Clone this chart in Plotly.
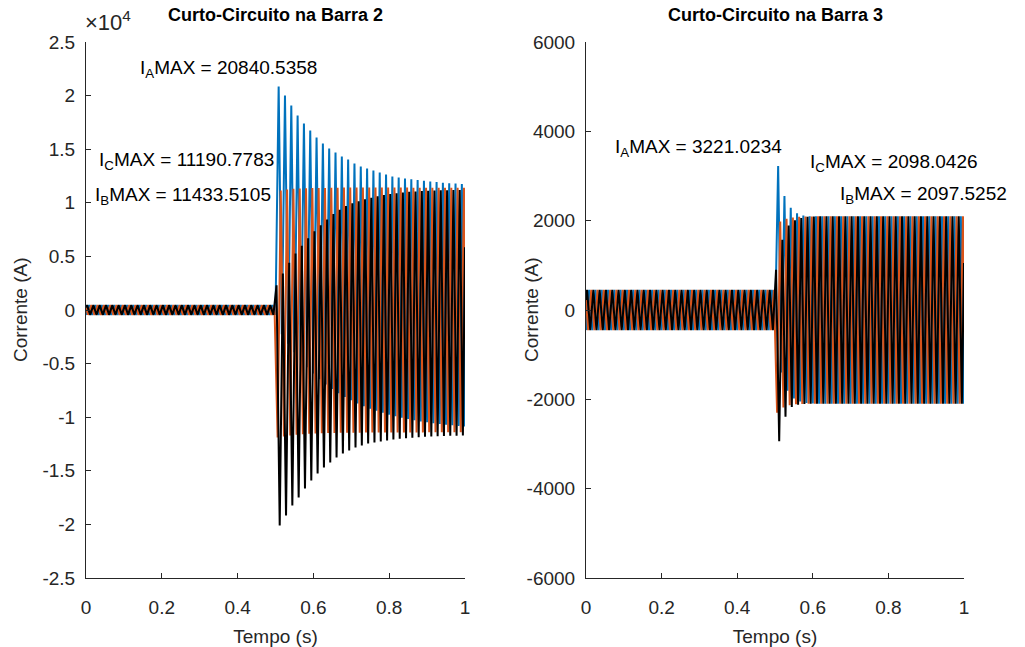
import plotly.graph_objects as go

# ---------------------------------------------------------------------------
# Three-phase fault currents, 60 Hz, fault applied at t = 0.5 s
# Values are the peak (max) and trough (min) of each post-fault cycle.
# ---------------------------------------------------------------------------
F_HZ = 60
T_FAULT = 0.5
T_END = 1.0

# ---- Barra 2 -------------------------------------------------------------
B2_PRE_PEAK = 450
B2_IA_MAX = [20840.5358, 20010, 19080, 18140, 17400, 16740, 16090, 15530, 15070, 14690,
             14320, 14040, 13670, 13390, 13200, 13010, 12830, 12640, 12450, 12360,
             12270, 12200, 12130, 12060, 11990, 11930, 11870, 11820, 11790, 11760]
B2_IA_MIN = [-2250, -3150, -3950, -4680, -5340, -5930, -6460, -6940, -7370, -7760,
             -8110, -8420, -8710, -8970, -9200, -9400, -9590, -9760, -9910, -10050,
             -10170, -10290, -10390, -10480, -10560, -10630, -10700, -10760, -10810, -10860]
B2_IB_MAX = [11150, 11250, 11300, 11330, 11350, 11370, 11380, 11390, 11400, 11410,
             11415, 11420, 11425, 11430, 11433.5105, 11430, 11428, 11425, 11420, 11418,
             11415, 11412, 11410, 11408, 11405, 11403, 11400, 11398, 11396, 11395]
B2_IB_MIN = [-11900, -11800, -11700, -11640, -11590, -11550, -11520, -11500, -11480, -11470,
             -11460, -11450, -11445, -11440, -11435, -11432, -11430, -11428, -11426, -11424,
             -11422, -11420, -11418, -11416, -11414, -11412, -11410, -11408, -11406, -11404]
B2_IC_MAX = [2300, 3400, 4400, 5270, 6000, 6700, 7350, 7900, 8450, 8950,
             9350, 9700, 9950, 10150, 10330, 10480, 10610, 10720, 10810, 10890,
             10960, 11020, 11060, 11100, 11130, 11150, 11165, 11175, 11185, 11190.7783]
B2_IC_MIN = [-20100, -19170, -18240, -17490, -16650, -15910, -15250, -14690, -14230, -13760,
             -13390, -13110, -12830, -12640, -12450, -12360, -12260, -12170, -12090, -12020,
             -11960, -11910, -11870, -11830, -11800, -11770, -11750, -11730, -11720, -11710]
B2_START = {"A": -450, "B": 225, "C": 225}
B2_END = {"A": -10860, "B": 5700, "C": 5850}

# ---- Barra 3 -------------------------------------------------------------
B3_PRE_PEAK = 450
B3_IA_MAX = [3221.0234, 2550, 2290, 2165, 2115, 2100, 2097, 2097, 2097, 2097,
             2097, 2097, 2097, 2097, 2097, 2097, 2097, 2097, 2097, 2097,
             2097, 2097, 2097, 2097, 2097, 2097, 2097, 2097, 2097, 2097]
B3_IA_MIN = [-1400, -1810, -1980, -2050, -2080, -2092, -2096, -2097, -2097, -2097,
             -2097, -2097, -2097, -2097, -2097, -2097, -2097, -2097, -2097, -2097,
             -2097, -2097, -2097, -2097, -2097, -2097, -2097, -2097, -2097, -2097]
B3_IB_MAX = [1980, 2040, 2070, 2085, 2092, 2095, 2096, 2097, 2097.5252, 2097.5,
             2097.5, 2097.5, 2097.5, 2097.5, 2097.5, 2097.5, 2097.5, 2097.5, 2097.5, 2097.5,
             2097.5, 2097.5, 2097.5, 2097.5, 2097.5, 2097.5, 2097.5, 2097.5, 2097.5, 2097.5]
B3_IB_MIN = [-2300, -2180, -2130, -2110, -2102, -2099, -2098, -2097.5, -2097.5, -2097.5,
             -2097.5, -2097.5, -2097.5, -2097.5, -2097.5, -2097.5, -2097.5, -2097.5, -2097.5, -2097.5,
             -2097.5, -2097.5, -2097.5, -2097.5, -2097.5, -2097.5, -2097.5, -2097.5, -2097.5, -2097.5]
B3_IC_MAX = [900, 1570, 1890, 2010, 2060, 2085, 2093, 2096, 2097, 2098.0426,
             2098, 2098, 2098, 2098, 2098, 2098, 2098, 2098, 2098, 2098,
             2098, 2098, 2098, 2098, 2098, 2098, 2098, 2098, 2098, 2098]
B3_IC_MIN = [-2940, -2390, -2170, -2120, -2105, -2100, -2098, -2098, -2098, -2098,
             -2098, -2098, -2098, -2098, -2098, -2098, -2098, -2098, -2098, -2098,
             -2098, -2098, -2098, -2098, -2098, -2098, -2098, -2098, -2098, -2098]
B3_START = {"A": -450, "B": 225, "C": 225}
B3_END = {"A": -2097, "B": 1050, "C": 1050}

# Phase lag (fraction of a cycle) and polarity of the first extreme
PHASE_LAG = {"A": 0.0, "B": 1 / 3, "C": 1 / 6}
FIRST_IS_MAX = {"A": False, "B": False, "C": True}
COLORS = {"A": "#0072BD", "B": "#D95319", "C": "#000000"}

X_TICKS = [0, 0.2, 0.4, 0.6, 0.8, 1]
X_TICK_TEXT = ["0", "0.2", "0.4", "0.6", "0.8", "1"]
B2_Y_TICKS = [-25000, -20000, -15000, -10000, -5000, 0, 5000, 10000, 15000, 20000, 25000]
B2_Y_TICK_TEXT = ["-2.5", "-2", "-1.5", "-1", "-0.5", "0", "0.5", "1", "1.5", "2", "2.5"]
B3_Y_TICKS = [-6000, -4000, -2000, 0, 2000, 4000, 6000]
B3_Y_TICK_TEXT = ["-6000", "-4000", "-2000", "0", "2000", "4000", "6000"]


def phase_points(phase, pre_peak, post_max, post_min, start_val, end_val):
    """Join the extremes of one phase current in time order."""
    lag = PHASE_LAG[phase]
    first_max = FIRST_IS_MAX[phase]
    t, v = [0.0], [start_val]
    i_max = i_min = 0
    j = 0
    while True:
        tj = (j + 2 * lag) / (2 * F_HZ)
        if tj > T_END + 1e-12:
            break
        is_max = ((j % 2) == 0) == first_max
        if tj <= T_FAULT + 1e-12:
            val = pre_peak if is_max else -pre_peak
        elif is_max:
            val = post_max[i_max]
            i_max += 1
        else:
            val = post_min[i_min]
            i_min += 1
        if tj <= 1e-12:
            v[0] = val
        else:
            t.append(tj)
            v.append(val)
        j += 1
    if t[-1] < T_END - 1e-12:
        t.append(T_END)
        v.append(end_val)
    return t, v


FONT = "Liberation Sans, Arial, Helvetica, sans-serif"
AX_COLOR = "#262626"
TXT = 19

fig = go.Figure()

bars = [
    ("x", "y", B2_PRE_PEAK,
     {"A": (B2_IA_MAX, B2_IA_MIN), "B": (B2_IB_MAX, B2_IB_MIN), "C": (B2_IC_MAX, B2_IC_MIN)},
     B2_START, B2_END),
    ("x2", "y2", B3_PRE_PEAK,
     {"A": (B3_IA_MAX, B3_IA_MIN), "B": (B3_IB_MAX, B3_IB_MIN), "C": (B3_IC_MAX, B3_IC_MIN)},
     B3_START, B3_END),
]

for xa, ya, pre, series, start, end in bars:
    for ph in ["A", "B", "C"]:
        mx, mn = series[ph]
        t, v = phase_points(ph, pre, mx, mn, start[ph], end[ph])
        fig.add_trace(go.Scatter(
            x=t, y=v, mode="lines", xaxis=xa, yaxis=ya,
            line=dict(color=COLORS[ph], width=2), showlegend=False,
            hoverinfo="skip",
        ))

W, H = 1025, 647
L_DOM = [86 / W, 465 / W]
R_DOM = [586 / W, 964 / W]
Y_DOM = [1 - 578 / H, 1 - 42 / H]

axis_common = dict(
    showgrid=False, zeroline=False, showline=True, linecolor=AX_COLOR, linewidth=1,
    ticks="inside", ticklen=5, tickcolor=AX_COLOR, mirror=False, automargin=False,
    tickfont=dict(family=FONT, size=TXT, color=AX_COLOR),
)
axis_title_font = dict(family=FONT, size=TXT, color=AX_COLOR)

fig.update_layout(
    width=W, height=H,
    margin=dict(l=0, r=0, t=0, b=0, autoexpand=False),
    paper_bgcolor="white", plot_bgcolor="white",
    xaxis=dict(domain=L_DOM, range=[0, 1], tickvals=X_TICKS, ticktext=X_TICK_TEXT,
               anchor="y", ticklabelstandoff=12,
               title=dict(text="Tempo (s)", font=axis_title_font, standoff=16),
               **axis_common),
    yaxis=dict(domain=Y_DOM, range=[-25000, 25000], tickvals=B2_Y_TICKS, ticktext=B2_Y_TICK_TEXT,
               anchor="x", ticklabelstandoff=6, **axis_common),
    xaxis2=dict(domain=R_DOM, range=[0, 1], tickvals=X_TICKS, ticktext=X_TICK_TEXT,
                anchor="y2", ticklabelstandoff=12,
                title=dict(text="Tempo (s)", font=axis_title_font, standoff=16),
                **axis_common),
    yaxis2=dict(domain=Y_DOM, range=[-6000, 6000], tickvals=B3_Y_TICKS, ticktext=B3_Y_TICK_TEXT,
                anchor="x2", ticklabelstandoff=6, **axis_common),
)

ann_font = dict(family=FONT, size=TXT, color="black")
title_font = dict(family=FONT, size=18, color="black")
Y_MID = (Y_DOM[0] + Y_DOM[1]) / 2

annotations = [
    dict(text="<b>Curto-Circuito na Barra 2</b>", xref="paper", yref="paper",
         x=(L_DOM[0] + L_DOM[1]) / 2, y=1 - 15 / H, xanchor="center", yanchor="middle",
         showarrow=False, font=title_font),
    dict(text="<b>Curto-Circuito na Barra 3</b>", xref="paper", yref="paper",
         x=(R_DOM[0] + R_DOM[1]) / 2, y=1 - 15 / H, xanchor="center", yanchor="middle",
         showarrow=False, font=title_font),
    dict(text="Corrente (A)", xref="paper", yref="paper", textangle=-90,
         x=20 / W, y=Y_MID, xanchor="center", yanchor="middle",
         showarrow=False, font=axis_title_font),
    dict(text="Corrente (A)", xref="paper", yref="paper", textangle=-90,
         x=531 / W, y=Y_MID, xanchor="center", yanchor="middle",
         showarrow=False, font=axis_title_font),
    dict(text="×10<sup>4</sup>", xref="paper", yref="paper",
         x=83 / W, y=1 - 21 / H, xanchor="left", yanchor="middle",
         showarrow=False, font=dict(family=FONT, size=22, color=AX_COLOR)),
    dict(text="I<sub>A</sub>MAX = 20840.5358", xref="x", yref="y", x=0.137, y=22500,
         xanchor="left", yanchor="middle", showarrow=False, font=ann_font),
    dict(text="I<sub>C</sub>MAX = 11190.7783", xref="x", yref="y", x=0.029, y=13900,
         xanchor="left", yanchor="middle", showarrow=False, font=ann_font),
    dict(text="I<sub>B</sub>MAX = 11433.5105", xref="x", yref="y", x=0.018, y=10600,
         xanchor="left", yanchor="middle", showarrow=False, font=ann_font),
    dict(text="I<sub>A</sub>MAX = 3221.0234", xref="x2", yref="y2", x=0.071, y=3620,
         xanchor="left", yanchor="middle", showarrow=False, font=ann_font),
    dict(text="I<sub>C</sub>MAX = 2098.0426", xref="x2", yref="y2", x=0.587, y=3285,
         xanchor="left", yanchor="middle", showarrow=False, font=ann_font),
    dict(text="I<sub>B</sub>MAX = 2097.5252", xref="x2", yref="y2", x=0.667, y=2570,
         xanchor="left", yanchor="middle", showarrow=False, font=ann_font),
]
fig.update_layout(annotations=annotations)

fig.write_html("out.html")
